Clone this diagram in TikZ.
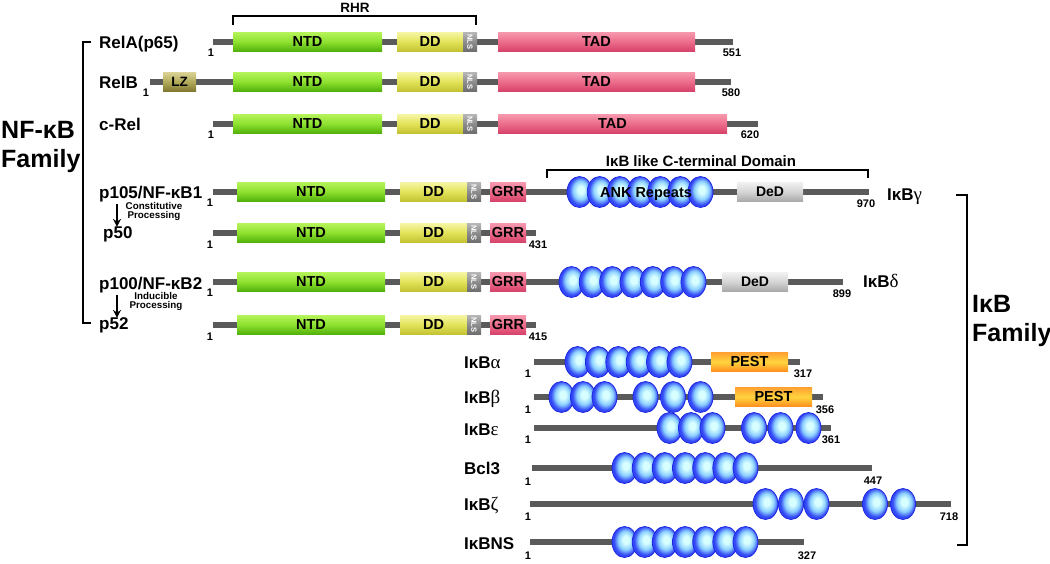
\documentclass[tikz,border=0pt]{standalone}
\usepackage{fontspec}
\usepackage{graphicx}
\setmainfont{Liberation Sans}
\newfontfamily\serifgrk{Liberation Serif}
\usetikzlibrary{arrows.meta,shapes.geometric}
\definecolor{bbgray}{HTML}{5A5A5A}
\definecolor{ntdT}{HTML}{B4F258}\definecolor{ntdM}{HTML}{8CE02E}\definecolor{ntdB}{HTML}{52B00A}
\definecolor{ddT}{HTML}{F4F4A0}\definecolor{ddM}{HTML}{E2E258}\definecolor{ddB}{HTML}{C2C232}
\definecolor{tadT}{HTML}{F596AC}\definecolor{tadM}{HTML}{EC6C8A}\definecolor{tadB}{HTML}{D6426A}
\definecolor{nlsT}{HTML}{B4B4B4}\definecolor{nlsM}{HTML}{8C8C8C}\definecolor{nlsB}{HTML}{6E6E6E}
\definecolor{lzT}{HTML}{D8D092}\definecolor{lzM}{HTML}{B2AA58}\definecolor{lzB}{HTML}{807832}
\definecolor{dedT}{HTML}{F0F0F0}\definecolor{dedM}{HTML}{D4D4D4}\definecolor{dedB}{HTML}{A8A8A8}
\definecolor{pestT}{HTML}{FFA232}\definecolor{pestM}{HTML}{FFD43E}\definecolor{pestB}{HTML}{FF8E1E}
\definecolor{ankHi}{HTML}{D8FFFF}\definecolor{ankMid}{HTML}{8CD0FF}\definecolor{ankEdge}{HTML}{3348F6}\definecolor{ankLine}{HTML}{1E28E0}
\pgfdeclareradialshading{ankball}{\pgfpoint{3bp}{4bp}}{color(0bp)=(ankHi); color(6bp)=(ankHi); color(15bp)=(ankMid); color(23bp)=(ankEdge); color(30bp)=(ankEdge); color(50bp)=(ankEdge)}
\newcommand\dom[6]{\pgfmathsetmacro\domX{(#3+#4)/2}\pgfmathsetmacro\domW{#4-#3}\node[#2, minimum width=\domW pt] (#1) at (\domX,#5) {#6};}
\newcommand\ankrow[3]{\foreach \c [count=\i] in {#3} {\node[ank] (#1-\i) at (\c,#2) {};}}
\begin{document}
\begin{tikzpicture}[x=1pt,y=-1pt,
  backbone/.style={line width=6pt, draw=bbgray},
  dombox/.style={rectangle, inner sep=0pt, minimum height=18.5pt, font=\bfseries\fontsize{14.5}{14.5}\selectfont},
  ntd/.style={dombox, top color=ntdT, bottom color=ntdB, middle color=ntdM},
  dd/.style={dombox, top color=ddT, bottom color=ddB, middle color=ddM},
  tad/.style={dombox, top color=tadT, bottom color=tadB, middle color=tadM},
  nls/.style={dombox, top color=nlsT, bottom color=nlsB, middle color=nlsM, text=white, font=\bfseries\fontsize{7.5}{7.5}\selectfont},
  lz/.style={dombox, top color=lzT, bottom color=lzB, middle color=lzM, font=\bfseries\fontsize{13.5}{13.5}\selectfont},
  ded/.style={dombox, minimum height=19pt, top color=dedT, bottom color=dedB, middle color=dedM, font=\bfseries\fontsize{14}{14}\selectfont},
  pest/.style={dombox, minimum height=19pt, top color=pestT, bottom color=pestB, middle color=pestM},
  ank/.style={ellipse, minimum width=25pt, minimum height=31pt, inner sep=0pt, draw=ankLine, line width=0.8pt, shade, shading=ankball},
  num/.style={font=\bfseries\fontsize{11}{11}\selectfont, inner sep=0pt},
  prot/.style={font=\bfseries\fontsize{17}{17}\selectfont, anchor=base west, inner sep=0pt},
  fam/.style={font=\bfseries\fontsize{25}{29}\selectfont, anchor=base west, inner sep=0pt, align=left},
  proc/.style={font=\bfseries\fontsize{9.8}{9}\selectfont, inner sep=0pt, align=center},
  brk/.style={line width=1.5pt},
  fbrk/.style={line width=2.6pt},
  procarrow/.style={line width=2pt, -{Stealth[length=8pt,width=8pt]}},
  brlabel/.style={font=\bfseries\fontsize{13.5}{13.5}\selectfont, inner sep=0pt}
]
\useasboundingbox (0,0) rectangle (1050,563);

% ---------- brackets and their labels ----------
\node[brlabel] (rhr) at (355,8) {RHR};
\draw[brk] (233,25) -- (233,16) -- (476,16) -- (476,25);
\node[brlabel, font=\bfseries\fontsize{15}{15}\selectfont] (ctd) at (701,161) {I{κ}B like C-terminal Domain};
\draw[brk] (547,178) -- (547,170) -- (868,170) -- (868,178);

\node[fam] (nfkbfam) at (1,167) {NF-κB\\Family};
\draw[fbrk] (91,42) -- (83,42) -- (83,323) -- (91,323);
\node[fam] (ikbfam) at (972,341) {IκB\\Family};
\draw[fbrk] (956,195) -- (967,195) -- (967,545) -- (957,545);

% ---------- NF-kB family labels ----------
\node[prot] (rela) at (99,48) {RelA(p65)};
\node[prot] (relb) at (99,88) {RelB};
\node[prot] (crel) at (99,130) {c-Rel};
\node[prot] (p105) at (99,198) {p105/NF-κB1};
\node[prot] (p50) at (103,238) {p50};
\node[prot] (p100) at (99,289) {p100/NF-κB2};
\node[prot] (p52) at (99,329) {p52};
\draw[procarrow] ([xshift=18pt]p105.south west) ++(0,2) -- ([xshift=14pt,yshift=-1pt]p50.north west);
\node[proc] (constit) at (154,211.5) {Constitutive\\Processing};
\draw[procarrow] ([xshift=18pt]p100.south west) ++(0,2) -- ([xshift=18pt,yshift=-1pt]p52.north west);
\node[proc] (induc) at (156,301.5) {Inducible\\Processing};

% ---------- RelA ----------
\draw[backbone] (213,42) -- (733,42);
\dom{a-ntd}{ntd}{233}{382}{42}{NTD}
\dom{a-dd}{dd}{397}{463}{42}{DD}
\dom{a-nls}{nls}{463}{477}{42}{\rotatebox{-90}{NLS}}
\dom{a-tad}{tad}{498}{695}{42}{TAD}
\node[num] (a-n1) at (211,53) {1};
\node[num] (a-n2) at (732,53) {551};

% ---------- RelB ----------
\draw[backbone] (150,82) -- (731,82);
\dom{b-lz}{lz}{163}{196}{82}{LZ}
\dom{b-ntd}{ntd}{233}{382}{82}{NTD}
\dom{b-dd}{dd}{397}{463}{82}{DD}
\dom{b-nls}{nls}{463}{477}{82}{\rotatebox{-90}{NLS}}
\dom{b-tad}{tad}{498}{695}{82}{TAD}
\node[num] (b-n1) at (146,93) {1};
\node[num] (b-n2) at (731,93) {580};

% ---------- c-Rel ----------
\draw[backbone] (213,124) -- (758,124);
\dom{c-ntd}{ntd}{233}{382}{124}{NTD}
\dom{c-dd}{dd}{397}{463}{124}{DD}
\dom{c-nls}{nls}{463}{477}{124}{\rotatebox{-90}{NLS}}
\dom{c-tad}{tad}{498}{727}{124}{TAD}
\node[num] (c-n1) at (211,135) {1};
\node[num] (c-n2) at (750,135) {620};

% ---------- p105 ----------
\draw[backbone] (213,192) -- (869,192);
\dom{d-ntd}{ntd}{237}{385}{192}{NTD}
\dom{d-dd}{dd}{400}{467}{192}{DD}
\dom{d-nls}{nls}{467}{481}{192}{\rotatebox{-90}{NLS}}
\dom{d-grr}{tad}{490}{526}{192}{GRR}
\ankrow{d-ank}{192}{579.5,599.7,619.8,640,660.2,680.3,700.5}
\node[font=\bfseries\fontsize{14.5}{14.5}\selectfont, inner sep=0pt] (ankrep) at (646,194) {ANK Repeats};
\dom{d-ded}{ded}{737}{803}{192}{DeD}
\node[num] (d-n1) at (210,203) {1};
\node[num] (d-n2) at (866,204) {970};
\node[prot] (ikbg) at (887,200) {IκB{\serifgrk\mdseries\fontsize{19}{19}\selectfont γ}};

% ---------- p50 ----------
\draw[backbone] (213,233) -- (536,233);
\dom{e-ntd}{ntd}{237}{385}{233}{NTD}
\dom{e-dd}{dd}{400}{467}{233}{DD}
\dom{e-nls}{nls}{467}{481}{233}{\rotatebox{-90}{NLS}}
\dom{e-grr}{tad}{490}{526}{233}{GRR}
\node[num] (e-n1) at (210,245) {1};
\node[num] (e-n2) at (538,245) {431};

% ---------- p100 ----------
\draw[backbone] (213,282) -- (843,282);
\dom{f-ntd}{ntd}{237}{385}{282}{NTD}
\dom{f-dd}{dd}{400}{467}{282}{DD}
\dom{f-nls}{nls}{467}{481}{282}{\rotatebox{-90}{NLS}}
\dom{f-grr}{tad}{490}{526}{282}{GRR}
\ankrow{f-ank}{282}{571.5,591.8,612.2,632.5,652.8,673.2,693.5}
\dom{f-ded}{ded}{722}{788}{282}{DeD}
\node[num] (f-n1) at (210,293) {1};
\node[num] (f-n2) at (842,294) {899};
\node[prot] (ikbd) at (863,287) {IκB{\serifgrk\mdseries\fontsize{19}{19}\selectfont δ}};

% ---------- p52 ----------
\draw[backbone] (213,325) -- (536,325);
\dom{g-ntd}{ntd}{237}{385}{325}{NTD}
\dom{g-dd}{dd}{400}{467}{325}{DD}
\dom{g-nls}{nls}{467}{481}{325}{\rotatebox{-90}{NLS}}
\dom{g-grr}{tad}{490}{526}{325}{GRR}
\node[num] (g-n1) at (210,337) {1};
\node[num] (g-n2) at (538,337) {415};

% ---------- IkB alpha ----------
\node[prot] (ikba) at (464,368) {IκB{\serifgrk\mdseries\fontsize{19}{19}\selectfont α}};
\draw[backbone] (534,362) -- (800,362);
\ankrow{h-ank}{362}{577.5,597.9,618.3,638.7,659.1,679.5}
\dom{h-pest}{pest}{711}{788}{362}{PEST}
\node[num] (h-n1) at (528,374) {1};
\node[num] (h-n2) at (803,374) {317};

% ---------- IkB beta ----------
\node[prot] (ikbb) at (464,403) {IκB{\serifgrk\mdseries\fontsize{19}{19}\selectfont β}};
\draw[backbone] (534,397) -- (823,397);
\ankrow{i-ank}{397}{561.5,583,604.5,645.5,673,700.5}
\dom{i-pest}{pest}{735}{812}{397}{PEST}
\node[num] (i-n1) at (528,410) {1};
\node[num] (i-n2) at (825,410) {356};

% ---------- IkB epsilon ----------
\node[prot] (ikbe) at (464,435) {IκB{\serifgrk\mdseries\fontsize{19}{19}\selectfont ε}};
\draw[backbone] (534,428) -- (831,428);
\ankrow{j-ank}{428}{669.5,691,712.5,754,780.5,808.5}
\node[num] (j-n1) at (528,440) {1};
\node[num] (j-n2) at (831,440) {361};

% ---------- Bcl3 ----------
\node[prot] (bcl3) at (464,474) {Bcl3};
\draw[backbone] (532,468) -- (872,468);
\ankrow{k-ank}{468}{624.5,644.7,664.8,685,705.2,725.3,745.5}
\node[num] (k-n1) at (528,482) {1};
\node[num] (k-n2) at (873,481) {447};

% ---------- IkB zeta ----------
\node[prot] (ikbz) at (464,510) {IκB{\serifgrk\mdseries\fontsize{19}{19}\selectfont ζ}};
\draw[backbone] (530,504) -- (951,504);
\ankrow{l-ank}{504}{765.5,791,816.5,875,903}
\node[num] (l-n1) at (528,517) {1};
\node[num] (l-n2) at (949,517) {718};

% ---------- IkB NS ----------
\node[prot] (ikbns) at (464,549) {IκBNS};
\draw[backbone] (530,542) -- (804,542);
\ankrow{m-ank}{542}{624.5,644.7,664.8,685,705.2,725.3,745.5}
\node[num] (m-n1) at (528,556) {1};
\node[num] (m-n2) at (807,556) {327};
\end{tikzpicture}
\end{document}
